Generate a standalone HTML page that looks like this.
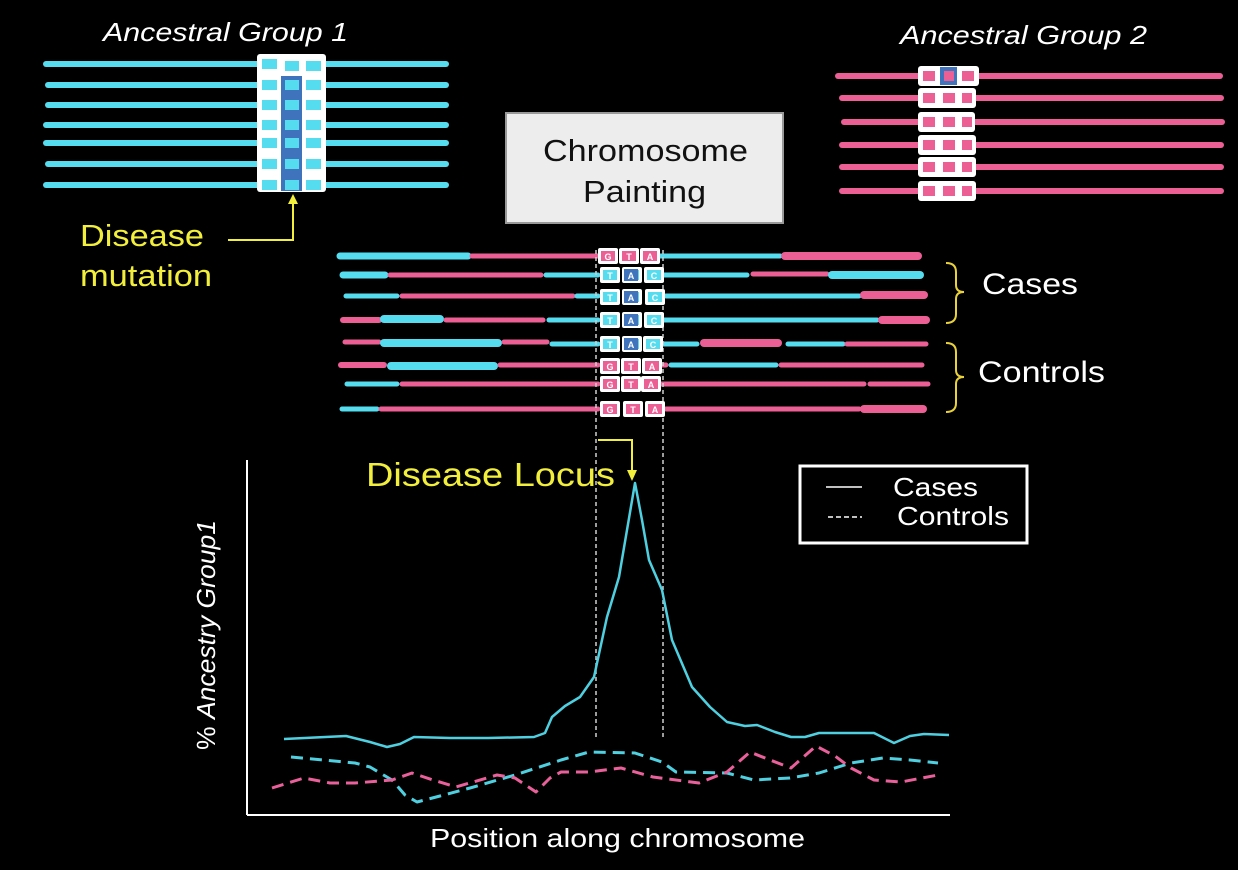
<!DOCTYPE html>
<html><head><meta charset="utf-8"><style>
html,body{margin:0;padding:0;background:#000;}
svg{display:block;}
text{font-family:"Liberation Sans",Arial,sans-serif;}
</style></head><body>
<svg width="1238" height="870" viewBox="0 0 1238 870" xmlns="http://www.w3.org/2000/svg" font-family="Liberation Sans, Arial, sans-serif">
<rect width="1238" height="870" fill="#000"/>
<defs>
<g id="bc"><rect x="-9" y="-8" width="20" height="16" rx="2" fill="#fff"/><rect x="-6" y="-5" width="14" height="10" fill="#55dcef"/></g>
<g id="bp"><rect x="-9" y="-8" width="20" height="16" rx="2" fill="#fff"/><rect x="-6" y="-5" width="14" height="10" fill="#ec5f95"/></g>
</defs>

<text x="103" y="41" fill="#fff" font-size="26" font-style="italic" textLength="245" lengthAdjust="spacingAndGlyphs">Ancestral Group 1</text>
<text x="900" y="44" fill="#fff" font-size="26" font-style="italic" textLength="247" lengthAdjust="spacingAndGlyphs">Ancestral Group 2</text>

<g stroke="#55dcef" stroke-width="6" stroke-linecap="round">
<line x1="46" y1="64" x2="446" y2="64"/><line x1="48" y1="85" x2="446" y2="85"/>
<line x1="48" y1="105" x2="446" y2="105"/><line x1="46" y1="125" x2="446" y2="125"/>
<line x1="46" y1="143" x2="446" y2="143"/><line x1="48" y1="164" x2="446" y2="164"/>
<line x1="46" y1="185" x2="446" y2="185"/>
</g>
<rect x="257" y="54" width="69" height="138" rx="3" fill="#fff"/>
<rect x="281" y="76" width="21" height="115" fill="#3f74bd"/>
<g fill="#55dcef">
<rect x="262" y="59" width="15" height="10"/><rect x="285" y="61" width="14" height="10"/><rect x="306" y="61" width="15" height="10"/>
<rect x="262" y="80" width="15" height="10"/><rect x="285" y="80" width="14" height="10"/><rect x="306" y="80" width="15" height="10"/>
<rect x="262" y="100" width="15" height="10"/><rect x="285" y="100" width="14" height="10"/><rect x="306" y="100" width="15" height="10"/>
<rect x="262" y="120" width="15" height="10"/><rect x="285" y="120" width="14" height="10"/><rect x="306" y="120" width="15" height="10"/>
<rect x="262" y="138" width="15" height="10"/><rect x="285" y="138" width="14" height="10"/><rect x="306" y="138" width="15" height="10"/>
<rect x="262" y="159" width="15" height="10"/><rect x="285" y="159" width="14" height="10"/><rect x="306" y="159" width="15" height="10"/>
<rect x="262" y="180" width="15" height="10"/><rect x="285" y="180" width="14" height="10"/><rect x="306" y="180" width="15" height="10"/>
</g>

<g stroke="#ec5f95" stroke-width="6" stroke-linecap="round">
<line x1="838" y1="76" x2="1220" y2="76"/><line x1="842" y1="98" x2="1221" y2="98"/>
<line x1="844" y1="122" x2="1222" y2="122"/><line x1="842" y1="145" x2="1221" y2="145"/>
<line x1="842" y1="167" x2="1221" y2="167"/><line x1="842" y1="191" x2="1221" y2="191"/>
</g>
<g>
<rect x="918" y="66" width="61" height="20" rx="3" fill="#fff"/><rect x="940" y="67" width="17" height="18" fill="#3f74bd"/>
<rect x="918" y="88" width="58" height="20" rx="3" fill="#fff"/>
<rect x="918" y="112" width="57" height="20" rx="3" fill="#fff"/>
<rect x="918" y="135" width="58" height="20" rx="3" fill="#fff"/>
<rect x="918" y="157" width="58" height="20" rx="3" fill="#fff"/>
<rect x="918" y="181" width="58" height="20" rx="3" fill="#fff"/>
</g>
<g fill="#ec5f95">
<rect x="923" y="71" width="12" height="10"/><rect x="944" y="71" width="10" height="10"/><rect x="962" y="71" width="12" height="10"/>
<rect x="923" y="93" width="12" height="10"/><rect x="943" y="93" width="12" height="10"/><rect x="962" y="93" width="10" height="10"/>
<rect x="923" y="117" width="12" height="10"/><rect x="943" y="117" width="12" height="10"/><rect x="962" y="117" width="10" height="10"/>
<rect x="923" y="140" width="12" height="10"/><rect x="943" y="140" width="12" height="10"/><rect x="962" y="140" width="10" height="10"/>
<rect x="923" y="162" width="12" height="10"/><rect x="943" y="162" width="12" height="10"/><rect x="962" y="162" width="10" height="10"/>
<rect x="923" y="186" width="12" height="10"/><rect x="943" y="186" width="12" height="10"/><rect x="962" y="186" width="10" height="10"/>
</g>

<rect x="506" y="113" width="277" height="110" fill="#ededed" stroke="#999" stroke-width="2"/>
<text x="543" y="161" fill="#111" font-size="31" textLength="205" lengthAdjust="spacingAndGlyphs">Chromosome</text>
<text x="583" y="202" fill="#111" font-size="31" textLength="123" lengthAdjust="spacingAndGlyphs">Painting</text>

<text x="80" y="246" fill="#f2ef3c" font-size="31" textLength="124" lengthAdjust="spacingAndGlyphs">Disease</text>
<text x="80" y="286" fill="#f2ef3c" font-size="31" textLength="132" lengthAdjust="spacingAndGlyphs">mutation</text>
<polyline points="228,240 293,240 293,202" fill="none" stroke="#f2ef3c" stroke-width="2"/>
<polygon points="288,204 298,204 293,194" fill="#f2ef3c"/>

<g stroke-linecap="round" fill="none">
<line x1="340" y1="256" x2="468" y2="256" stroke="#55dcef" stroke-width="7"/>
<line x1="472" y1="256" x2="598" y2="256" stroke="#ec5f95" stroke-width="5"/>
<line x1="659" y1="256" x2="780" y2="256" stroke="#55dcef" stroke-width="5"/>
<line x1="785" y1="256" x2="918" y2="256" stroke="#ec5f95" stroke-width="8"/>
<line x1="343" y1="275" x2="385" y2="275" stroke="#55dcef" stroke-width="7"/>
<line x1="390" y1="275" x2="541" y2="275" stroke="#ec5f95" stroke-width="5"/>
<line x1="546" y1="275" x2="598" y2="275" stroke="#55dcef" stroke-width="5"/>
<line x1="664" y1="275" x2="747" y2="275" stroke="#55dcef" stroke-width="5"/>
<line x1="753" y1="274" x2="827" y2="274" stroke="#ec5f95" stroke-width="5"/>
<line x1="832" y1="275" x2="920" y2="275" stroke="#55dcef" stroke-width="8"/>
<line x1="346" y1="296" x2="397" y2="296" stroke="#55dcef" stroke-width="5"/>
<line x1="402" y1="296" x2="573" y2="296" stroke="#ec5f95" stroke-width="5"/>
<line x1="577" y1="296" x2="598" y2="296" stroke="#55dcef" stroke-width="5"/>
<line x1="666" y1="296" x2="859" y2="296" stroke="#55dcef" stroke-width="5"/>
<line x1="864" y1="295" x2="924" y2="295" stroke="#ec5f95" stroke-width="8"/>
<line x1="343" y1="320" x2="379" y2="320" stroke="#ec5f95" stroke-width="6"/>
<line x1="384" y1="319" x2="440" y2="319" stroke="#55dcef" stroke-width="8"/>
<line x1="446" y1="320" x2="543" y2="320" stroke="#ec5f95" stroke-width="5"/>
<line x1="549" y1="320" x2="598" y2="320" stroke="#55dcef" stroke-width="5"/>
<line x1="664" y1="320" x2="877" y2="320" stroke="#55dcef" stroke-width="5"/>
<line x1="882" y1="320" x2="926" y2="320" stroke="#ec5f95" stroke-width="8"/>
<line x1="345" y1="342" x2="379" y2="342" stroke="#ec5f95" stroke-width="5"/>
<line x1="384" y1="343" x2="498" y2="343" stroke="#55dcef" stroke-width="8"/>
<line x1="504" y1="342" x2="547" y2="342" stroke="#ec5f95" stroke-width="5"/>
<line x1="552" y1="344" x2="598" y2="344" stroke="#55dcef" stroke-width="5"/>
<line x1="662" y1="344" x2="697" y2="344" stroke="#55dcef" stroke-width="5"/>
<line x1="704" y1="343" x2="778" y2="343" stroke="#ec5f95" stroke-width="8"/>
<line x1="788" y1="344" x2="843" y2="344" stroke="#55dcef" stroke-width="5"/>
<line x1="847" y1="344" x2="926" y2="344" stroke="#ec5f95" stroke-width="5"/>
<line x1="341" y1="365" x2="384" y2="365" stroke="#ec5f95" stroke-width="6"/>
<line x1="391" y1="366" x2="494" y2="366" stroke="#55dcef" stroke-width="8"/>
<line x1="500" y1="365" x2="598" y2="365" stroke="#ec5f95" stroke-width="5"/>
<line x1="658" y1="365" x2="666" y2="365" stroke="#ec5f95" stroke-width="5"/>
<line x1="671" y1="365" x2="776" y2="365" stroke="#55dcef" stroke-width="5"/>
<line x1="781" y1="365" x2="922" y2="365" stroke="#ec5f95" stroke-width="5"/>
<line x1="347" y1="384" x2="397" y2="384" stroke="#55dcef" stroke-width="5"/>
<line x1="402" y1="384" x2="598" y2="384" stroke="#ec5f95" stroke-width="5"/>
<line x1="656" y1="384" x2="864" y2="384" stroke="#ec5f95" stroke-width="5"/>
<line x1="870" y1="384" x2="928" y2="384" stroke="#ec5f95" stroke-width="5"/>
<line x1="342" y1="409" x2="377" y2="409" stroke="#55dcef" stroke-width="5"/>
<line x1="381" y1="409" x2="598" y2="409" stroke="#ec5f95" stroke-width="5"/>
<line x1="666" y1="409" x2="859" y2="409" stroke="#ec5f95" stroke-width="5"/>
<line x1="864" y1="409" x2="923" y2="409" stroke="#ec5f95" stroke-width="8"/>
</g>

<g stroke="#cfcfcf" stroke-width="1.5" stroke-dasharray="4,3">
<line x1="596" y1="250" x2="596" y2="740"/>
<line x1="663" y1="250" x2="663" y2="740"/>
</g>

<g>
<use href="#bp" x="607" y="256"/><use href="#bp" x="628" y="256"/><use href="#bp" x="649" y="256"/>
<use href="#bc" x="609" y="275"/><use href="#bc" x="631" y="275"/><use href="#bc" x="653" y="275"/>
<use href="#bc" x="609" y="297"/><use href="#bc" x="631" y="297"/><use href="#bc" x="654" y="297"/>
<use href="#bc" x="609" y="320"/><use href="#bc" x="631" y="320"/><use href="#bc" x="653" y="320"/>
<use href="#bc" x="609" y="344"/><use href="#bc" x="631" y="344"/><use href="#bc" x="652" y="344"/>
<use href="#bp" x="609" y="366"/><use href="#bp" x="630" y="366"/><use href="#bp" x="651" y="366"/>
<use href="#bp" x="609" y="384"/><use href="#bp" x="630" y="384"/><use href="#bp" x="650" y="384"/>
<use href="#bp" x="609" y="409"/><use href="#bp" x="632" y="409"/><use href="#bp" x="654" y="409"/>
</g>
<g fill="#3f74bd">
<rect x="624" y="269" width="14" height="12"/><rect x="624" y="291" width="14" height="12"/>
<rect x="624" y="314" width="14" height="12"/><rect x="624" y="338" width="14" height="12"/>
</g>
<g font-size="9" fill="#fff" text-anchor="middle" font-weight="bold">
<text x="608" y="260">G</text><text x="629" y="260">T</text><text x="650" y="260">A</text>
<text x="610" y="279">T</text><text x="631" y="279">A</text><text x="654" y="279">C</text>
<text x="610" y="301">T</text><text x="631" y="301">A</text><text x="655" y="301">C</text>
<text x="610" y="324">T</text><text x="631" y="324">A</text><text x="654" y="324">C</text>
<text x="610" y="348">T</text><text x="631" y="348">A</text><text x="653" y="348">C</text>
<text x="610" y="370">G</text><text x="631" y="370">T</text><text x="652" y="370">A</text>
<text x="610" y="388">G</text><text x="631" y="388">T</text><text x="651" y="388">A</text>
<text x="610" y="413">G</text><text x="633" y="413">T</text><text x="655" y="413">A</text>
</g>

<g stroke="#e8d13a" stroke-width="2" fill="none">
<path d="M946,263 Q956,263 956,272 L956,285 Q956,292 964,292 Q956,292 956,299 L956,314 Q956,323 946,323"/>
<path d="M946,343 Q956,343 956,352 L956,370 Q956,377 964,377 Q956,377 956,384 L956,403 Q956,412 946,412"/>
</g>
<text x="982" y="294" fill="#fff" font-size="30" textLength="96" lengthAdjust="spacingAndGlyphs">Cases</text>
<text x="978" y="382" fill="#fff" font-size="30" textLength="127" lengthAdjust="spacingAndGlyphs">Controls</text>

<text x="366" y="486" fill="#f2ef3c" font-size="33" textLength="249" lengthAdjust="spacingAndGlyphs">Disease Locus</text>
<polyline points="598,440 632,440 632,472" fill="none" stroke="#f2ef3c" stroke-width="2"/>
<polygon points="627,470 637,470 632,481" fill="#f2ef3c"/>

<rect x="800" y="466" width="227" height="77" fill="#000" stroke="#fff" stroke-width="3"/>
<line x1="826" y1="487" x2="862" y2="487" stroke="#fff" stroke-width="1.5"/>
<line x1="828" y1="517" x2="862" y2="517" stroke="#fff" stroke-width="1.5" stroke-dasharray="5,3"/>
<text x="893" y="496" fill="#fff" font-size="26" textLength="85" lengthAdjust="spacingAndGlyphs">Cases</text>
<text x="897" y="525" fill="#fff" font-size="26" textLength="112" lengthAdjust="spacingAndGlyphs">Controls</text>

<line x1="247" y1="460" x2="247" y2="815" stroke="#fff" stroke-width="2"/>
<line x1="247" y1="815" x2="950" y2="815" stroke="#fff" stroke-width="2"/>
<text x="430" y="847" fill="#fff" font-size="26" textLength="375" lengthAdjust="spacingAndGlyphs">Position along chromosome</text>
<text transform="translate(215,750) rotate(-90)" fill="#fff" font-size="26" textLength="230" lengthAdjust="spacingAndGlyphs">% <tspan font-style="italic">Ancestry Group1</tspan></text>

<polyline fill="none" stroke="#4fd0e0" stroke-width="2.5" stroke-linejoin="round"
points="284,739 346,736 370,742 387,747 400,744 414,737 450,738 488,738 534,737 545,733 552,717 565,706 580,697 594,677 607,617 619,577 627,530 635,483 642,520 649,560 662,590 672,640 692,687 710,707 727,722 745,726 757,725 775,732 791,737 805,737 819,733 850,733 874,733 894,743 910,736 924,734 949,735"/>
<polyline fill="none" stroke="#4fd0e0" stroke-width="3" stroke-dasharray="12,7" stroke-linejoin="round"
points="291,757 355,763 370,767 392,780 405,795 417,802 440,796 470,788 515,775 561,760 589,752 635,753 662,762 676,772 727,773 754,780 790,778 819,773 851,763 883,758 910,760 938,763"/>
<polyline fill="none" stroke="#e9609a" stroke-width="3" stroke-dasharray="12,7" stroke-linejoin="round"
points="272,788 304,778 330,783 355,783 392,780 412,773 433,780 456,787 497,775 515,778 536,792 550,778 561,772 589,772 621,768 653,777 699,783 727,772 750,752 770,760 791,768 816,746 835,756 851,768 874,780 901,782 938,775"/>
</svg>
</body></html>
